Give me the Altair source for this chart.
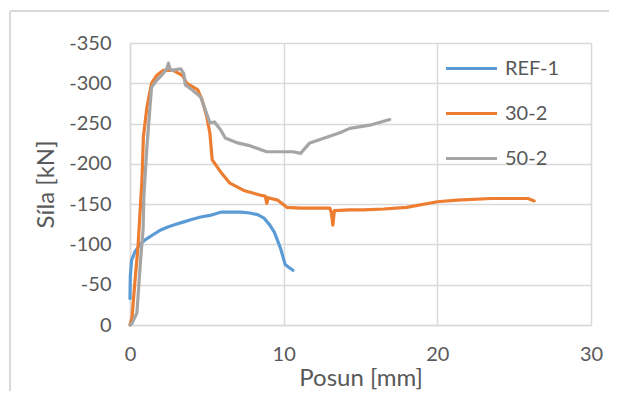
import altair as alt
import pandas as pd

# REF-1
ref_x = [0, 0.02, 0.1, 0.3, 0.65, 1.0, 1.5, 2.0, 2.5, 3.0, 3.5, 4.0, 4.6, 5.2, 5.9, 6.5, 7.2, 7.8, 8.3, 8.7, 9.1, 9.4, 9.8, 10.1, 10.3, 10.6]
ref_y = [-33, -60, -80, -90, -100, -106, -112, -118, -122, -125, -128, -131, -134, -136, -140, -140, -140, -139, -137, -133, -124, -115, -95, -75, -72, -68]

# 30-2
s30_x = [0, 0.13, 0.33, 0.52, 0.65, 0.78, 0.87, 1.1, 1.4, 1.75, 2.15, 2.8, 3.4, 3.7, 4.4, 4.7, 5.0, 5.2, 5.35, 5.9, 6.5, 7.4, 8.5, 8.8, 8.9, 9.0, 9.6, 10.2, 11.1, 13.0, 13.1, 13.2, 13.3, 14.3, 15.2, 16.5, 18.0, 20.0, 21.3, 23.5, 25.9, 26.3]
s30_y = [0, -9, -56, -97, -139, -180, -233, -270, -300, -310, -316, -316, -310, -300, -292, -279, -258, -238, -205, -190, -176, -167, -161, -160, -151, -158, -155, -146, -145, -145, -140, -124, -142, -143, -143, -144, -146, -153, -155, -157, -157, -154]

# 50-2
s50_x = [0, 0.13, 0.45, 0.55, 0.7, 0.85, 0.9, 0.98, 1.1, 1.25, 1.4, 1.75, 2.15, 2.4, 2.5, 2.6, 2.7, 3.3, 3.5, 3.6, 3.9, 4.6, 4.9, 5.2, 5.5, 5.9, 6.2, 7.0, 7.7, 8.9, 10.0, 10.6, 11.1, 11.7, 12.8, 13.7, 14.3, 15.6, 16.9]
s50_y = [0, -2, -15, -43, -84, -118, -159, -184, -221, -258, -295, -304, -312, -318, -325, -318, -316, -318, -312, -298, -294, -283, -267, -251, -252, -242, -232, -226, -223, -215, -215, -215, -213, -226, -233, -239, -244, -248, -255]

series_names = ["REF-1", "30-2", "50-2"]
series_colors = ["#5B9BD5", "#ED7D31", "#A5A5A5"]
x_ticks = [0, 10, 20, 30]
y_ticks = [0, -50, -100, -150, -200, -250, -300, -350]

rows = []
for name, xs, ys in zip(series_names, [ref_x, s30_x, s50_x], [ref_y, s30_y, s50_y]):
    for i, (a, b) in enumerate(zip(xs, ys)):
        rows.append({"series": name, "x": a, "y": b, "i": i})
df = pd.DataFrame(rows)

FONT = "Lato"
GRAY = "#595959"

lines = alt.Chart(df).mark_line(strokeWidth=3.2, strokeJoin="round", strokeCap="round").encode(
    x=alt.X("x:Q", scale=alt.Scale(domain=[0, 30], nice=False),
            axis=alt.Axis(values=x_ticks, title="Posun [mm]", grid=True, labelFlush=False)),
    y=alt.Y("y:Q", scale=alt.Scale(domain=[-350, 0], reverse=True, nice=False),
            axis=alt.Axis(values=y_ticks, title="Síla [kN]", grid=True, labelFlush=False,
                          labelExpr="'' + datum.value")),
    color=alt.Color("series:N", scale=alt.Scale(domain=series_names, range=series_colors),
                    legend=alt.Legend(title=None, orient="none", legendX=314, legendY=-2,
                                      symbolType="stroke", symbolStrokeWidth=3.2, symbolSize=2601,
                                      labelFontSize=20, labelColor=GRAY, labelFont=FONT,
                                      labelOffset=6, rowPadding=7, padding=0)),
    order="i:Q",
)

frame_top = alt.Chart(df).mark_rule(color="#d9d9d9", strokeWidth=2).encode(
    x=alt.value(-120), x2=alt.value(490), y=alt.value(-32))
frame_left = alt.Chart(df).mark_rule(color="#d9d9d9", strokeWidth=2).encode(
    x=alt.value(-120), y=alt.value(-32), y2=alt.value(360))

chart = alt.layer(frame_top, frame_left, lines).properties(
    width=461, height=282,
    autosize=alt.AutoSizeParams(type="none"),
    padding={"left": 122, "top": 35, "right": 18, "bottom": 66},
).configure_view(stroke=None).configure_axis(
    gridColor="#d9d9d9", gridWidth=1.5, domainColor="#d9d9d9", domainWidth=1.5,
    ticks=False, labelFont=FONT, labelFontSize=20, labelColor=GRAY, labelPadding=19,
    titleFont=FONT, titleFontSize=24, titleColor=GRAY, titleFontWeight="normal",
).configure_axisY(titlePadding=10).configure_axisX(titlePadding=2)

chart.save("out.html", embed_options={"renderer": "svg", "actions": False})
